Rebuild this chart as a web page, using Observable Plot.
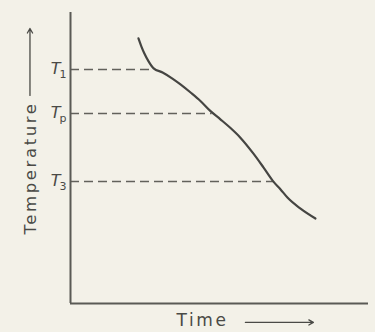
<!DOCTYPE html>
<html>
<head>
<meta charset="utf-8">
<script src="https://cdn.jsdelivr.net/npm/d3@7"></script>
<script src="https://cdn.jsdelivr.net/npm/@observablehq/plot@0.6"></script>
<style>
  html, body { margin: 0; padding: 0; background: #f3f1e8; }
  #chart svg { display: block; }
</style>
</head>
<body>
<div id="chart"></div>
<script>
// Cooling curve (time, temperature) in arbitrary units 0..100
const curveTime = [22.8, 23.8, 24.8, 26.2, 27.9, 30.9, 34.2, 36.9, 40.3, 43.6, 47.0, 50.3, 53.7, 57.0, 61.4, 64.8, 68.1, 70.5, 72.8, 77.2, 82.2];
const curveTemp = [91.1, 88.3, 85.9, 83.2, 80.8, 79.4, 77.3, 75.3, 72.5, 69.6, 66.1, 63.3, 60.3, 57.0, 51.5, 46.7, 41.9, 39.2, 36.4, 32.6, 29.2];

// Characteristic temperature levels
const levelMain = ["T", "T", "T"];
const levelSub = ["1", "p", "3"];
const levelTemp = [80.4, 65.3, 41.9];
const levelTimeEnd = [27.5, 47.5, 68.1];

const curve = curveTime.map((t, i) => ({time: t, temp: curveTemp[i]}));
const levels = levelTemp.map((v, i) => ({temp: v, end: levelTimeEnd[i], main: levelMain[i], sub: levelSub[i]}));

const ink = "#454542";
const font = "DejaVu Sans, sans-serif";

const chart = Plot.plot({
  width: 375,
  height: 332,
  marginLeft: 70,
  marginRight: 7,
  marginTop: 12,
  marginBottom: 29,
  style: {background: "#f3f1e8", fontFamily: font, color: ink, overflow: "visible"},
  x: {domain: [0, 100], axis: null},
  y: {domain: [0, 100], axis: null},
  marks: [
    // dashed level lines
    Plot.ruleY(levels, {y: "temp", x1: 0, x2: "end", stroke: "#62615b", strokeWidth: 1.4, strokeDasharray: "9,5"}),
    // axes
    Plot.ruleX([0], {stroke: "#5a5a55", strokeWidth: 2}),
    Plot.ruleY([0], {stroke: "#5a5a55", strokeWidth: 2}),
    // curve
    Plot.line(curve, {x: "time", y: "temp", curve: "monotone-x", stroke: ink, strokeWidth: 2.2}),
    // level labels
    Plot.text(levels, {x: 0, y: "temp", text: "main", textAnchor: "end", dx: -10, dy: -1, fontSize: 16, fontStyle: "italic", fill: "#4a4a46"}),
    Plot.text(levels, {x: 0, y: "temp", text: "sub", textAnchor: "end", dx: -4, dy: 5, fontSize: 11, fill: "#4a4a46"}),
    // axis titles
    Plot.text(["Temperature"], {frameAnchor: "left", dx: -40, dy: 10, rotate: -90, fontSize: 16.5, fill: "#4a4a46", textAnchor: "middle"}),
    Plot.arrow([0], {x1: -13.6, x2: -13.6, y1: 71.5, y2: 94.5, stroke: "#4a4a46", strokeWidth: 1.3, headLength: 6, clip: false}),
    Plot.text(["Time"], {frameAnchor: "bottom", dx: -17, dy: 22, fontSize: 17, fill: "#4a4a46"}),
    Plot.arrow([0], {x1: 58.7, x2: 81.5, y1: -6.5, y2: -6.5, stroke: "#4a4a46", strokeWidth: 1.3, headLength: 6, clip: false})
  ]
});
d3.select(chart).selectAll("text")
  .filter(function() { const t = this.textContent; return t === "Temperature" || t === "Time"; })
  .attr("letter-spacing", 2.6);
document.getElementById("chart").appendChild(chart);
</script>
</body>
</html>
